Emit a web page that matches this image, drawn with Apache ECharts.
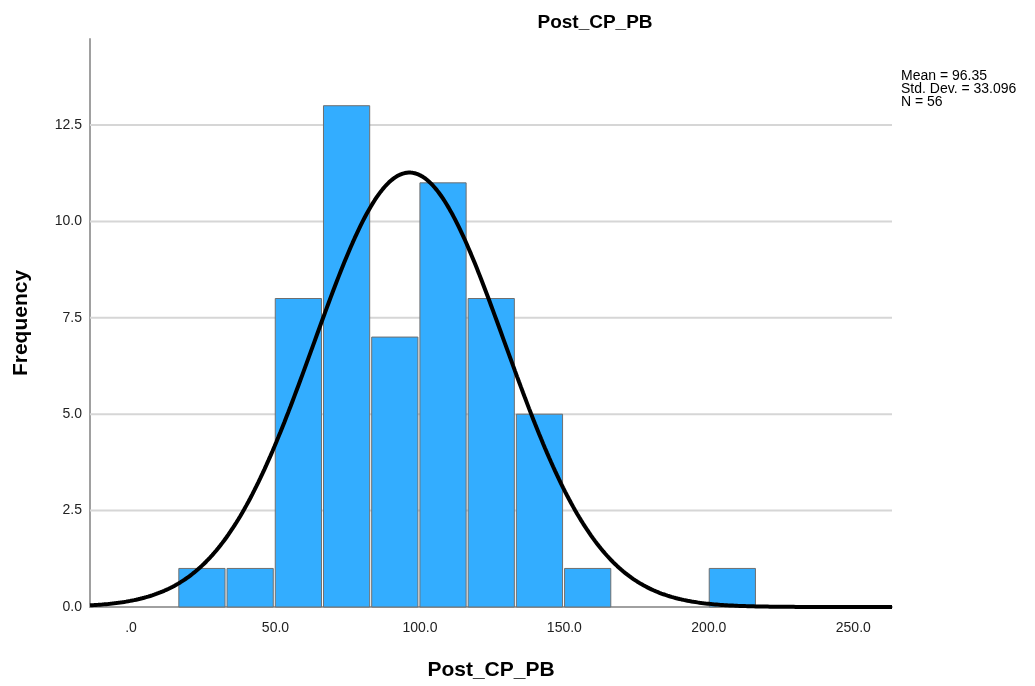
<!DOCTYPE html>
<html>
<head>
<meta charset="utf-8">
<script src="https://cdn.jsdelivr.net/npm/echarts@6/dist/echarts.min.js"></script>
<style>
html,body{margin:0;padding:0;background:#fff;}
#chart{width:1035px;height:686px;}
</style>
</head>
<body>
<div id="chart"></div>
<script>
// ---- data ----
var chartTitle = 'Post_CP_PB';
var xAxisName = 'Post_CP_PB';
var yAxisName = 'Frequency';
var binEdges = [16.2, 32.89, 49.58, 66.27, 82.96, 99.65, 116.34, 133.03, 149.72, 166.41, 183.1, 199.79, 216.48];
var counts = [1, 1, 8, 13, 7, 11, 8, 5, 1, 0, 0, 1];
var xTicks = [0, 50, 100, 150, 200, 250];
var yTicks = [0, 2.5, 5, 7.5, 10, 12.5];
var statMean = 96.35;
var statSD = 33.096;
var statN = 56;
var xMin = -14.2, xMax = 263.4, yMax = 14.73;

// histogram rectangles
var barData = [];
for (var i = 0; i < counts.length; i++) {
  if (counts[i] > 0) barData.push([binEdges[i], binEdges[i + 1], counts[i]]);
}
// fitted normal curve defined by the reported mean / sd / N
var binW = (binEdges[binEdges.length - 1] - binEdges[0]) / counts.length;
var curve = [];
for (var k = 0; k <= 400; k++) {
  var x = xMin + (xMax - xMin) * k / 400;
  var z = (x - statMean) / statSD;
  curve.push([x, statN * binW * Math.exp(-0.5 * z * z) / (statSD * Math.sqrt(2 * Math.PI))]);
}

var chart = echarts.init(document.getElementById('chart'));
var font = 'Arial, "Liberation Sans", sans-serif';
chart.setOption({
  animation: false,
  backgroundColor: '#fff',
  title: {
    text: chartTitle, left: 590, top: 8, textAlign: 'center',
    textStyle: {fontFamily: font, fontSize: 19, fontWeight: 'bold', color: '#000'}
  },
  grid: {left: 90, right: 143, top: 39, bottom: 78, containLabel: false},
  xAxis: {
    type: 'value', min: xMin, max: xMax,
    name: xAxisName, nameLocation: 'middle', nameGap: 53,
    nameTextStyle: {fontFamily: font, fontSize: 21, fontWeight: 'bold', color: '#000'},
    axisLine: {show: true, onZero: false, lineStyle: {color: '#a0a0a0', width: 2}},
    axisTick: {show: false},
    splitLine: {show: false},
    axisLabel: {
      customValues: xTicks, margin: 14,
      fontFamily: font, fontSize: 14, color: '#222',
      formatter: function (v) { return v === 0 ? '.0' : v.toFixed(1); }
    }
  },
  yAxis: {
    type: 'value', min: 0, max: yMax,
    name: yAxisName, nameLocation: 'middle', nameGap: 58,
    nameTextStyle: {fontFamily: font, fontSize: 21, fontWeight: 'bold', color: '#000'},
    axisLine: {show: true, onZero: false, lineStyle: {color: '#a0a0a0', width: 2}},
    axisTick: {show: false},
    splitLine: {show: false},
    axisLabel: {
      customValues: yTicks, margin: 8,
      fontFamily: font, fontSize: 14, color: '#222',
      formatter: function (v) { return v.toFixed(1); }
    }
  },
  series: [
    {
      type: 'custom',
      data: yTicks.filter(function (t) { return t > 0; }).map(function (t) { return [t]; }),
      z: 1, silent: true,
      renderItem: function (params, api) {
        var a = api.coord([xMin, api.value(0)]);
        var b = api.coord([xMax, api.value(0)]);
        return {type: 'line', shape: {x1: a[0], y1: a[1], x2: b[0], y2: b[1]},
          style: {stroke: '#d6d6d6', lineWidth: 2}};
      }
    },
    {
      type: 'custom',
      data: barData, z: 2,
      renderItem: function (params, api) {
        var p0 = api.coord([api.value(0), 0]);
        var p1 = api.coord([api.value(1), api.value(2)]);
        return {
          type: 'rect',
          shape: {x: p0[0] + 1, y: p1[1], width: p1[0] - p0[0] - 2, height: p0[1] - p1[1]},
          style: {fill: '#33adff', stroke: '#6f6f6f', lineWidth: 1}
        };
      }
    },
    {
      type: 'line', data: curve, z: 3,
      showSymbol: false, smooth: false,
      lineStyle: {color: '#000', width: 4}
    }
  ],
  graphic: [{
    type: 'text', left: 901, top: 69,
    style: {
      text: 'Mean = ' + statMean.toFixed(2) + '\nStd. Dev. = ' + statSD.toFixed(3) + '\nN = ' + statN,
      fontFamily: font, fontSize: 14, lineHeight: 13, fill: '#000'
    }
  }]
});
</script>
</body>
</html>
